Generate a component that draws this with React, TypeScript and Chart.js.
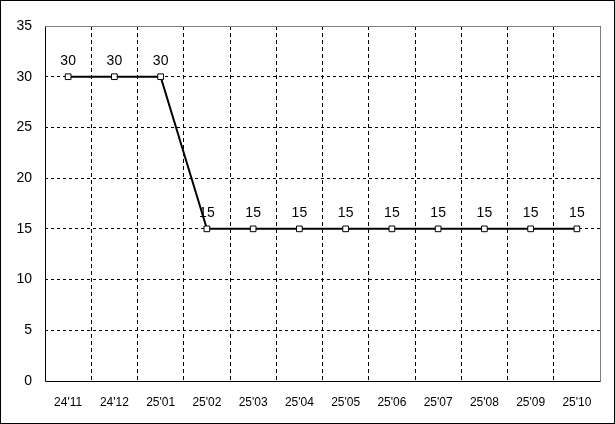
import React, { useEffect, useRef } from "react";
import { Chart, registerables } from "chart.js";

Chart.register(...registerables);

const categories = ["24'11", "24'12", "25'01", "25'02", "25'03", "25'04", "25'05", "25'06", "25'07", "25'08", "25'09", "25'10"];
const values = [30, 30, 30, 15, 15, 15, 15, 15, 15, 15, 15, 15];
const yMin = 0;
const yMax = 35;
const yStep = 5;

const FONT = "'Liberation Sans', Arial, sans-serif";

const framePlugin = {
  id: "frame",
  beforeDatasetsDraw(chart: any) {
    const ctx = chart.ctx;
    const meta = chart.getDatasetMeta(0);
    ctx.save();
    ctx.font = `14px ${FONT}`;
    ctx.fillStyle = "#000";
    ctx.textAlign = "center";
    ctx.textBaseline = "middle";
    meta.data.forEach((pt: any, i: number) => {
      ctx.fillText(String(values[i]), pt.x, pt.y - 16);
    });
    ctx.restore();
  },
  afterDraw(chart: any) {
    const ctx = chart.ctx;
    const a = chart.chartArea;
    ctx.save();
    ctx.lineWidth = 1;
    ctx.strokeStyle = "#808080";
    ctx.beginPath();
    ctx.moveTo(Math.round(a.left) + 0.5, Math.round(a.top) + 0.5);
    ctx.lineTo(Math.round(a.right) + 0.5, Math.round(a.top) + 0.5);
    ctx.lineTo(Math.round(a.right) + 0.5, Math.round(a.bottom) + 0.5);
    ctx.stroke();
    ctx.strokeStyle = "#000";
    ctx.beginPath();
    ctx.moveTo(Math.round(a.left) + 0.5, Math.round(a.top) + 0.5);
    ctx.lineTo(Math.round(a.left) + 0.5, Math.round(a.bottom) + 0.5);
    ctx.lineTo(Math.round(a.right) + 0.5, Math.round(a.bottom) + 0.5);
    ctx.stroke();
    ctx.strokeRect(0.5, 0.5, chart.width - 1, chart.height - 1);
    ctx.restore();
  },
};

export default function App() {
  const ref = useRef<HTMLCanvasElement>(null);
  useEffect(() => {
    document.body.style.margin = "0";
    const chart = new Chart(ref.current as HTMLCanvasElement, {
      type: "line",
      data: {
        labels: categories,
        datasets: [
          {
            data: values,
            borderColor: "#000",
            borderWidth: 2,
            pointStyle: "rect",
            pointRadius: 4,
            pointBorderWidth: 1,
            pointBackgroundColor: "#fff",
            pointBorderColor: "#000",
            tension: 0,
          },
        ],
      },
      options: {
        animation: false,
        responsive: false,
        devicePixelRatio: 1,
        layout: { padding: { top: 26, right: 15, left: 0, bottom: 0 } },
        plugins: { legend: { display: false }, tooltip: { enabled: false } },
        scales: {
          x: {
            offset: true,
            border: { display: false, dash: [4, 3] },
            grid: {
              offset: true,
              drawTicks: false,
              color: (c: any) => (c.index === 0 || c.index === categories.length ? "rgba(0,0,0,0)" : "#000"),
              lineWidth: 1,
            },
            ticks: { color: "#000", font: { family: FONT, size: 12 }, padding: 14, maxRotation: 0, autoSkip: false },
            afterFit(s: any) {
              s.height = 43;
            },
          },
          y: {
            min: yMin,
            max: yMax,
            border: { display: false, dash: [3, 3] },
            grid: {
              drawTicks: false,
              color: (c: any) => (c.tick && (c.tick.value === yMax || c.tick.value === yMin) ? "rgba(0,0,0,0)" : "#000"),
              lineWidth: 1,
            },
            ticks: { stepSize: yStep, color: "#000", font: { family: FONT, size: 14 }, padding: 13 },
            afterFit(s: any) {
              s.width = 45;
            },
          },
        },
      },
      plugins: [framePlugin],
    });
    return () => chart.destroy();
  }, []);
  return (
    <div style={{ width: 615, height: 424 }}>
      <canvas ref={ref} width={615} height={424} style={{ display: "block" }} />
    </div>
  );
}
